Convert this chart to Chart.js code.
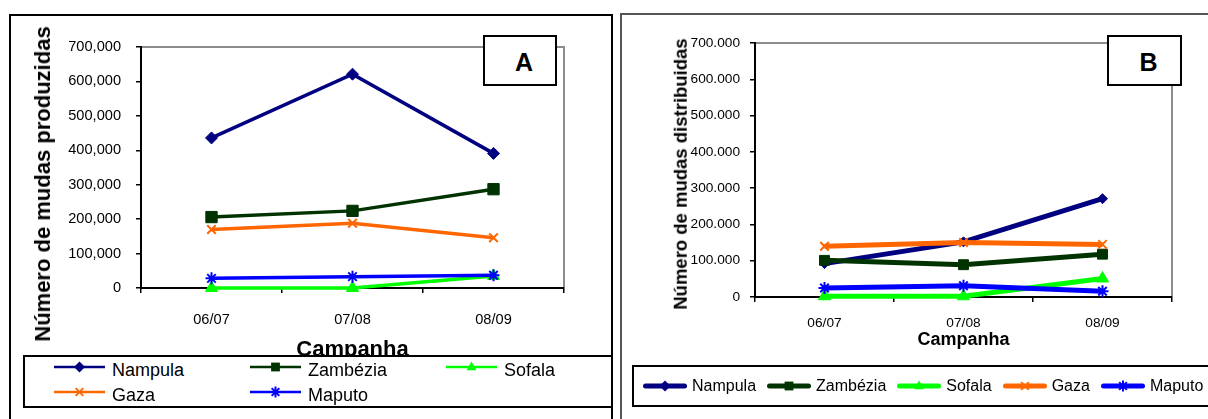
<!DOCTYPE html>
<html lang="pt">
<head>
<meta charset="utf-8">
<title>Mudas produzidas e distribuídas</title>
<script src="https://cdn.jsdelivr.net/npm/chart.js@4.4.1/dist/chart.umd.min.js"></script>
<style>
  html, body { margin: 0; padding: 0; background: #fff; }
  body { width: 1208px; height: 419px; position: relative; overflow: hidden;
         font-family: "Liberation Sans", Arial, sans-serif; color: #000; }
  .painel { position: absolute; box-sizing: border-box; }
  #painelA { left: 9px; top: 14px; width: 604px; height: 440px; border: 2px solid #000; }
  #painelB { left: 620px; top: 13px; width: 620px; height: 440px; border: 2px solid #555; }
  canvas { position: absolute; top: 0; }
  #graficoA { left: 0; }
  #graficoB { left: 612px; }
  .tituloY { position: absolute; transform: translate(-50%, -50%) rotate(-90deg);
             white-space: nowrap; font-weight: bold; line-height: 1; }
  #tituloYA { left: 43px; top: 184px; font-size: 22px; }
  #tituloYB { left: 681px; top: 174px; font-size: 18.5px; }
  .rotulo { position: absolute; box-sizing: border-box; border: 2px solid #000; background: #fff;
            font-weight: bold; display: flex; align-items: center; justify-content: center; font-size: 25px; }
  #rotuloA { left: 483px; top: 35px; width: 74px; height: 51px; padding-left: 8px; padding-top: 4px; }
  #rotuloB { left: 1107px; top: 35px; width: 75px; height: 51px; padding-left: 8px; padding-top: 4px; }
  .legenda { position: absolute; box-sizing: border-box; background: #fff; border: 2px solid #000; }
  #legendaA { left: 23px; top: 355px; width: 590px; height: 53px; display: grid;
              grid-template-columns: repeat(3, 196px); grid-auto-rows: 25px;
              padding: 0 0 0 29px; font-size: 18px; }
  #legendaB { left: 632px; top: 365px; width: 590px; height: 42px; display: flex; align-items: center;
              padding-left: 9px; font-size: 16px; }
  .item { display: flex; align-items: center; white-space: nowrap; line-height: 1; }
  #legendaA .item svg { margin-right: 7px; margin-top: -5px; }
  #legendaB .item { margin-right: 11px; }
  #legendaB .item svg { margin-right: 5px; }
</style>
</head>
<body>
<div class="painel" id="painelA"></div>
<div class="painel" id="painelB"></div>
<canvas id="graficoA" width="612" height="419"></canvas>
<canvas id="graficoB" width="596" height="419"></canvas>
<div class="tituloY" id="tituloYA">Número de mudas produzidas</div>
<div class="tituloY" id="tituloYB">Número de mudas distribuidas</div>
<div class="rotulo" id="rotuloA">A</div>
<div class="rotulo" id="rotuloB">B</div>
<div class="legenda" id="legendaA"></div>
<div class="legenda" id="legendaB"></div>
<script>
// categorias e séries
const campanhas = ['06/07', '07/08', '08/09'];
const provincias = ['Nampula', 'Zambézia', 'Sofala', 'Gaza', 'Maputo'];

// A - mudas produzidas
const produzNampula = [436000, 621000, 391000];
const produzZambezia = [206000, 224000, 287000];
const produzSofala = [0, 0, 35000];
const produzGaza = [170000, 188000, 146000];
const produzMaputo = [28000, 33000, 37000];

// B - mudas distribuidas
const distNampula = [92000, 152000, 271000];
const distZambezia = [101000, 89000, 118000];
const distSofala = [2000, 2000, 51000];
const distGaza = [140000, 150000, 145000];
const distMaputo = [25000, 31000, 16000];

// rótulos do eixo y
const ticksA = ['0', '100,000', '200,000', '300,000', '400,000', '500,000', '600,000', '700,000'];
const ticksB = ['0', '100.000', '200.000', '300.000', '400.000', '500.000', '600.000', '700.000'];

// estilos
const cores = ['#000080', '#003300', '#00ff00', '#ff6600', '#0000ff'];
const marcadores = ['rectRot', 'rect', 'triangle', 'crossRot', 'star'];
const fonte = '"Liberation Sans", Arial, sans-serif';

// moldura cinzenta (topo e direita) da área do gráfico
const moldura = {
    id: 'moldura',
    beforeDatasetsDraw(chart) {
        const { ctx, chartArea: a } = chart;
        ctx.save();
        ctx.strokeStyle = '#8c8c8c';
        ctx.lineWidth = 2;
        ctx.beginPath();
        ctx.moveTo(a.left + 1, a.top);
        ctx.lineTo(a.right, a.top);
        ctx.lineTo(a.right, a.bottom - 1);
        ctx.stroke();
        ctx.restore();
    }
};

function criarGrafico(id, series, cfg) {
    return new Chart(document.getElementById(id), {
        type: 'line',
        data: {
            labels: campanhas,
            datasets: series.map((valores, i) => ({
                label: provincias[i],
                data: valores,
                borderColor: cores[i],
                backgroundColor: cores[i],
                borderWidth: cfg.linha,
                pointStyle: marcadores[i],
                pointRadius: cfg.raios[i],
                pointBorderWidth: (marcadores[i] === 'crossRot' || marcadores[i] === 'star') ? 2 : 1,
                pointBackgroundColor: cores[i],
                pointBorderColor: cores[i],
                tension: 0,
                clip: false,
                order: series.length - i
            }))
        },
        options: {
            responsive: false,
            animation: false,
            devicePixelRatio: 1,
            layout: { padding: cfg.padding },
            plugins: { legend: { display: false }, tooltip: { enabled: false } },
            scales: {
                x: {
                    offset: true,
                    grid: { offset: true, drawOnChartArea: false, tickLength: 5, color: '#000', lineWidth: 1.5 },
                    border: { color: '#000', width: 2 },
                    ticks: { color: '#000', font: { family: fonte, size: cfg.tickFonte }, padding: cfg.xPad, maxRotation: 0 },
                    title: {
                        display: true, text: 'Campanha', color: '#000',
                        font: { family: fonte, size: cfg.tituloFonte, weight: 'bold' },
                        padding: { top: 0, bottom: cfg.xTituloPad }
                    },
                    afterFit: s => { s.height = cfg.xAltura; }
                },
                y: {
                    min: 0,
                    max: 700000,
                    grid: { drawOnChartArea: false, tickLength: 5, color: '#000', lineWidth: 1.5 },
                    border: { color: '#000', width: 2 },
                    ticks: {
                        stepSize: 100000, color: '#000', padding: cfg.yPad,
                        font: { family: fonte, size: cfg.tickFonte },
                        callback: (v, i) => cfg.rotulos[i]
                    },
                    afterFit: s => { s.width = cfg.yLargura; }
                }
            }
        },
        plugins: [moldura]
    });
}

criarGrafico('graficoA',
    [produzNampula, produzZambezia, produzSofala, produzGaza, produzMaputo],
    {
        linha: 3.5, raios: [6, 8, 7, 6, 6],
        padding: { top: 47, right: 48, bottom: 51, left: 10 },
        tickFonte: 14.6, tituloFonte: 22, xPad: 18, yPad: 15, xTituloPad: 5,
        xAltura: 80, yLargura: 131, rotulos: ticksA
    });

criarGrafico('graficoB',
    [distNampula, distZambezia, distSofala, distGaza, distMaputo],
    {
        linha: 5, raios: [5, 7, 7, 6, 6],
        padding: { top: 43, right: 36, bottom: 62, left: 10 },
        tickFonte: 13.7, tituloFonte: 18, xPad: 13, yPad: 10, xTituloPad: 6,
        xAltura: 60, yLargura: 133, rotulos: ticksB
    });

// legendas em HTML
function amostra(i, largura, linha, r) {
    const c = cores[i], cx = largura / 2, cy = 10;
    let m = '';
    switch (marcadores[i]) {
        case 'rectRot':
            m = `<polygon points="${cx},${cy - r} ${cx + r},${cy} ${cx},${cy + r} ${cx - r},${cy}" fill="${c}"/>`;
            break;
        case 'rect':
            m = `<rect x="${cx - r * 0.8}" y="${cy - r * 0.8}" width="${r * 1.6}" height="${r * 1.6}" fill="${c}"/>`;
            break;
        case 'triangle':
            m = `<polygon points="${cx},${cy - r} ${cx + r * 0.9},${cy + r * 0.6} ${cx - r * 0.9},${cy + r * 0.6}" fill="${c}"/>`;
            break;
        case 'crossRot':
            m = `<path d="M${cx - r * 0.7} ${cy - r * 0.7}L${cx + r * 0.7} ${cy + r * 0.7}M${cx + r * 0.7} ${cy - r * 0.7}L${cx - r * 0.7} ${cy + r * 0.7}" stroke="${c}" stroke-width="2"/>`;
            break;
        case 'star':
            m = `<path d="M${cx - r * 0.7} ${cy - r * 0.7}L${cx + r * 0.7} ${cy + r * 0.7}M${cx + r * 0.7} ${cy - r * 0.7}L${cx - r * 0.7} ${cy + r * 0.7}M${cx} ${cy - r}L${cx} ${cy + r}" stroke="${c}" stroke-width="2"/>`;
            break;
    }
    const cap = linha > 3 ? 'round' : 'butt';
    const x0 = linha > 3 ? linha / 2 : 0;
    return `<svg width="${largura}" height="20"><line x1="${x0}" y1="${cy}" x2="${largura - x0}" y2="${cy}" stroke="${c}" stroke-width="${linha}" stroke-linecap="${cap}"/>${m}</svg>`;
}

function montarLegenda(id, largura, linha, r) {
    const caixa = document.getElementById(id);
    provincias.forEach((nome, i) => {
        const item = document.createElement('div');
        item.className = 'item';
        item.innerHTML = amostra(i, largura, linha, r) + '<span>' + nome + '</span>';
        caixa.appendChild(item);
    });
}

montarLegenda('legendaA', 51, 2.5, 5.5);
montarLegenda('legendaB', 44, 5, 5.5);
</script>
</body>
</html>
